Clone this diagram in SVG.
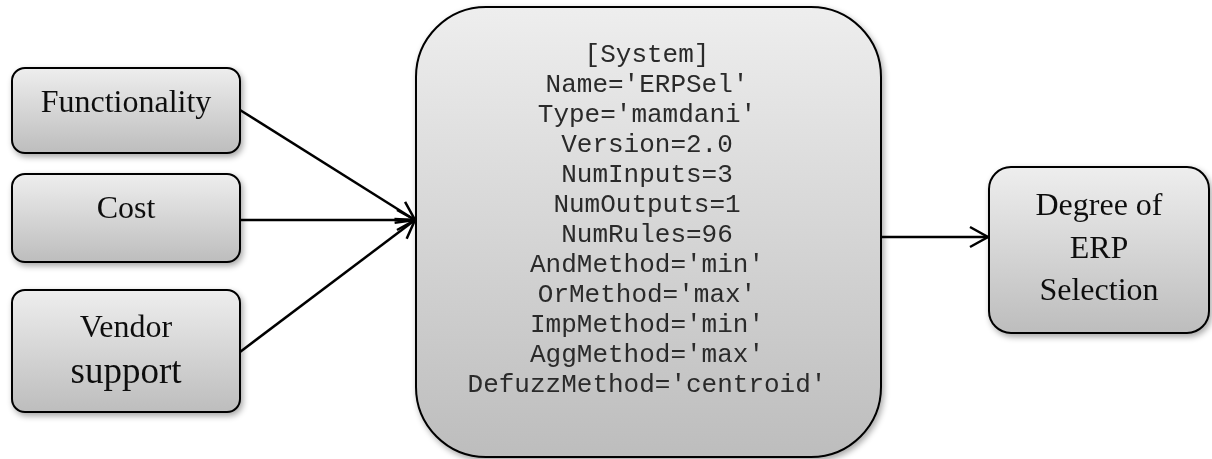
<svg xmlns="http://www.w3.org/2000/svg" width="1212" height="459" viewBox="0 0 1212 459">
<style>
.box{stroke:#000;stroke-width:2;fill:url(#g)}
.t{font-family:"Liberation Serif","Times New Roman",serif;font-size:32px;fill:#111;text-anchor:middle}
.m{font-family:"Liberation Mono","Courier New",monospace;font-size:26px;fill:#2a2a2a;text-anchor:middle}
.c{stroke:#000;stroke-width:2.5;fill:none}
</style>
<defs>
<linearGradient id="g" x1="0" y1="0" x2="0" y2="1">
<stop offset="0" stop-color="#eeeeee"/>
<stop offset="1" stop-color="#bdbdbd"/>
</linearGradient>
<filter id="sh" x="-10%" y="-10%" width="125%" height="125%">
<feGaussianBlur in="SourceAlpha" stdDeviation="3"/>
<feOffset dx="2" dy="3" result="b"/>
<feComponentTransfer><feFuncA type="linear" slope="0.35"/></feComponentTransfer>
<feMerge><feMergeNode/><feMergeNode in="SourceGraphic"/></feMerge>
</filter>
<marker id="a" markerWidth="24" markerHeight="24" refX="20" refY="12" orient="auto" markerUnits="userSpaceOnUse">
<path d="M2,2 L20,12 L2,22" fill="none" stroke="#000" stroke-width="2.5"/>
</marker>
</defs>
<g id="connectors">
<line class="c" x1="240" y1="110" x2="415" y2="220" marker-end="url(#a)"/>
<line class="c" x1="240" y1="220" x2="415" y2="220" marker-end="url(#a)"/>
<line class="c" x1="240" y1="352" x2="415" y2="220" marker-end="url(#a)"/>
<line class="c" x1="881" y1="237" x2="988" y2="237" marker-end="url(#a)"/>
</g>
<g id="functionality" filter="url(#sh)">
<rect class="box" x="12" y="68" width="228" height="85" rx="13"/>
<text class="t" x="126" y="112">Functionality</text>
</g>
<g id="cost" filter="url(#sh)">
<rect class="box" x="12" y="174" width="228" height="88" rx="13"/>
<text class="t" x="126" y="218">Cost</text>
</g>
<g id="vendor" filter="url(#sh)">
<rect class="box" x="12" y="290" width="228" height="122" rx="13"/>
<text class="t" x="126" y="337">Vendor</text>
<text class="t" x="126" y="383" style="font-size:37px">support</text>
</g>
<g id="system" filter="url(#sh)">
<rect class="box" x="416" y="7" width="465" height="450" rx="70"/>
<text class="m" x="647" y="62">[System]</text>
<text class="m" x="647" y="92">Name='ERPSel'</text>
<text class="m" x="647" y="122">Type='mamdani'</text>
<text class="m" x="647" y="152">Version=2.0</text>
<text class="m" x="647" y="182">NumInputs=3</text>
<text class="m" x="647" y="212">NumOutputs=1</text>
<text class="m" x="647" y="242">NumRules=96</text>
<text class="m" x="647" y="272">AndMethod='min'</text>
<text class="m" x="647" y="302">OrMethod='max'</text>
<text class="m" x="647" y="332">ImpMethod='min'</text>
<text class="m" x="647" y="362">AggMethod='max'</text>
<text class="m" x="647" y="392">DefuzzMethod='centroid'</text>
</g>
<g id="degree" filter="url(#sh)">
<rect class="box" x="989" y="167" width="220" height="166" rx="22"/>
<text class="t" x="1099" y="215">Degree of</text>
<text class="t" x="1099" y="258">ERP</text>
<text class="t" x="1099" y="300">Selection</text>
</g>
</svg>
